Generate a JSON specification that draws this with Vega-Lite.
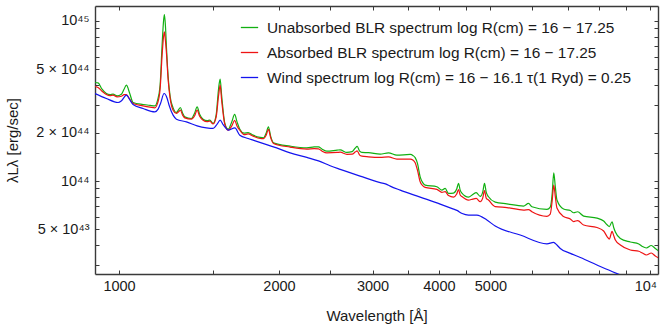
{
"$schema": "https://vega.github.io/schema/vega-lite/v6.json",
"width": 563, "height": 268,
"autosize": {"type": "none"},
"padding": {"left": 95, "top": 6, "right": 2, "bottom": 57},
"background": "white",
"config": {
  "view": {"stroke": null},
  "font": "Liberation Sans",
  "axis": {"grid": false, "domainColor": "#3a3a3a", "domainWidth": 1.4, "tickColor": "#3a3a3a", "tickWidth": 1, "tickSize": -4, "labelColor": "#1a1a1a", "labelFont": "Liberation Sans", "labelFontSize": 14.5, "titleFont": "Liberation Sans", "titleFontSize": 15, "titleFontWeight": "normal", "titleColor": "#1a1a1a"},
  "legend": {"labelFont": "Liberation Sans"}
},
"datasets": {
"blr": [
{"wl":901.2,"U":4.128e44,"A":3.897e44},
{"wl":913.0,"U":4.104e44,"A":3.842e44},
{"wl":928.9,"U":3.749e44,"A":3.643e44},
{"wl":946.4,"U":3.524e44,"A":3.474e44},
{"wl":961.7,"U":3.464e44,"A":3.415e44},
{"wl":974.3,"U":3.489e44,"A":3.439e44},
{"wl":991.4,"U":3.405e44,"A":3.357e44},
{"wl":1010.0,"U":3.489e44,"A":3.390e44},
{"wl":1021.9,"U":3.749e44,"A":3.464e44},
{"wl":1032.2,"U":3.971e44,"A":3.474e44},
{"wl":1047.5,"U":3.524e44,"A":3.247e44},
{"wl":1062.6,"U":3.097e44,"A":3.053e44},
{"wl":1109.7,"U":3.009e44,"A":2.949e44},
{"wl":1144.0,"U":2.971e44,"A":2.894e44},
{"wl":1167.6,"U":2.949e44,"A":2.866e44},
{"wl":1181.8,"U":3.201e44,"A":3.066e44},
{"wl":1194.7,"U":3.971e44,"A":3.749e44},
{"wl":1205.1,"U":7.053e44,"A":6.110e44},
{"wl":1213.0,"U":1.010e45,"A":8.027e44},
{"wl":1217.2,"U":1.096e45,"A":8.539e44},
{"wl":1222.5,"U":9.401e44,"A":7.579e44},
{"wl":1228.9,"U":6.566e44,"A":6.110e44},
{"wl":1236.9,"U":4.519e44,"A":4.328e44},
{"wl":1247.7,"U":3.390e44,"A":3.295e44},
{"wl":1264.0,"U":2.866e44,"A":2.772e44},
{"wl":1282.2,"U":2.683e44,"A":2.645e44},
{"wl":1294.5,"U":2.793e44,"A":2.713e44},
{"wl":1304.6,"U":2.882e44,"A":2.772e44},
{"wl":1317.2,"U":2.656e44,"A":2.581e44},
{"wl":1329.8,"U":2.518e44,"A":2.483e44},
{"wl":1368.4,"U":2.461e44,"A":2.437e44},
{"wl":1387.5,"U":2.656e44,"A":2.562e44},
{"wl":1402.7,"U":2.907e44,"A":2.772e44},
{"wl":1418.0,"U":2.618e44,"A":2.544e44},
{"wl":1439.6,"U":2.437e44,"A":2.402e44},
{"wl":1464.8,"U":2.385e44,"A":2.351e44},
{"wl":1482.1,"U":2.402e44,"A":2.368e44},
{"wl":1503.4,"U":2.291e44,"A":2.274e44},
{"wl":1523.1,"U":2.581e44,"A":2.508e44},
{"wl":1539.7,"U":3.803e44,"A":3.439e44},
{"wl":1549.8,"U":4.328e44,"A":3.971e44},
{"wl":1559.9,"U":3.439e44,"A":3.201e44},
{"wl":1581.7,"U":2.291e44,"A":2.258e44},
{"wl":1604.5,"U":2.110e44,"A":2.081e44},
{"wl":1629.1,"U":2.334e44,"A":2.203e44},
{"wl":1650.4,"U":2.607e44,"A":2.392e44},
{"wl":1668.1,"U":2.334e44,"A":2.203e44},
{"wl":1687.7,"U":2.110e44,"A":2.081e44},
{"wl":1719.5,"U":1.993e44,"A":1.950e44},
{"wl":1749.6,"U":2.007e44,"A":1.970e44},
{"wl":1787.9,"U":1.936e44,"A":1.909e44},
{"wl":1843.1,"U":1.873e44,"A":1.846e44},
{"wl":1871.3,"U":1.862e44,"A":1.841e44},
{"wl":1891.7,"U":1.993e44,"A":1.936e44},
{"wl":1910.7,"U":2.182e44,"A":2.101e44},
{"wl":1929.0,"U":1.909e44,"A":1.868e44},
{"wl":1952.6,"U":1.733e44,"A":1.718e44},
{"wl":2099.1,"U":1.653e44,"A":1.630e44},
{"wl":2256.7,"U":1.613e44,"A":1.583e44},
{"wl":2329.4,"U":1.634e44,"A":1.595e44},
{"wl":2373.3,"U":1.636e44,"A":1.590e44},
{"wl":2411.7,"U":1.583e44,"A":1.538e44},
{"wl":2461.3,"U":1.538e44,"A":1.501e44},
{"wl":2573.7,"U":1.561e44,"A":1.510e44},
{"wl":2607.4,"U":1.567e44,"A":1.517e44},
{"wl":2684.3,"U":1.510e44,"A":1.470e44},
{"wl":2746.7,"U":1.527e44,"A":1.473e44},
{"wl":2782.6,"U":1.606e44,"A":1.517e44},
{"wl":2806.8,"U":1.646e44,"A":1.545e44},
{"wl":2837.4,"U":1.538e44,"A":1.453e44},
{"wl":2864.6,"U":1.510e44,"A":1.432e44},
{"wl":2947.8,"U":1.506e44,"A":1.418e44},
{"wl":3101.1,"U":1.473e44,"A":1.406e44},
{"wl":3214.6,"U":1.501e44,"A":1.416e44},
{"wl":3333.9,"U":1.453e44,"A":1.372e44},
{"wl":3531.6,"U":1.467e44,"A":1.372e44},
{"wl":3577.9,"U":1.442e44,"A":1.352e44},
{"wl":3609.0,"U":1.401e44,"A":1.304e44},
{"wl":3645.2,"U":1.289e44,"A":1.171e44},
{"wl":3688.1,"U":1.064e44,"A":9.900e43},
{"wl":3728.3,"U":9.787e43,"A":9.374e43},
{"wl":3768.9,"U":9.442e43,"A":9.135e43},
{"wl":3965.1,"U":9.214e43,"A":8.876e43},
{"wl":4052.0,"U":8.787e43,"A":8.502e43},
{"wl":4110.4,"U":9.005e43,"A":8.600e43},
{"wl":4169.7,"U":8.380e43,"A":8.121e43},
{"wl":4261.1,"U":8.416e43,"A":7.947e43},
{"wl":4320.7,"U":8.916e43,"A":8.296e43},
{"wl":4354.5,"U":9.675e43,"A":8.850e43},
{"wl":4386.7,"U":8.787e43,"A":8.180e43},
{"wl":4419.1,"U":8.416e43,"A":8.004e43},
{"wl":4547.4,"U":7.947e43,"A":7.613e43},
{"wl":4631.1,"U":8.238e43,"A":7.722e43},
{"wl":4701.9,"U":8.477e43,"A":7.800e43},
{"wl":4784.2,"U":8.027e43,"A":7.431e43},
{"wl":4836.3,"U":8.538e43,"A":7.834e43},
{"wl":4874.2,"U":9.675e43,"A":8.725e43},
{"wl":4910.2,"U":8.538e43,"A":7.834e43},
{"wl":4959.4,"U":7.981e43,"A":7.613e43},
{"wl":5105.6,"U":7.396e43,"A":6.934e43},
{"wl":5371.4,"U":7.208e43,"A":6.835e43},
{"wl":5772.3,"U":6.984e43,"A":6.594e43},
{"wl":5898.9,"U":7.260e43,"A":6.641e43},
{"wl":5986.5,"U":6.914e43,"A":6.434e43},
{"wl":6388.9,"U":6.660e43,"A":6.030e43},
{"wl":6481.0,"U":6.884e43,"A":6.224e43},
{"wl":6537.5,"U":8.416e43,"A":7.613e43},
{"wl":6580.1,"U":1.127e44,"A":9.442e43},
{"wl":6623.1,"U":9.307e43,"A":8.062e43},
{"wl":6672.1,"U":7.613e43,"A":6.786e43},
{"wl":6865.8,"U":6.688e43,"A":6.004e43},
{"wl":7070.9,"U":6.546e43,"A":5.796e43},
{"wl":7172.8,"U":6.342e43,"A":5.590e43},
{"wl":7298.3,"U":6.434e43,"A":5.671e43},
{"wl":7490.6,"U":6.047e43,"A":5.316e43},
{"wl":7938.8,"U":5.876e43,"A":5.128e43},
{"wl":8169.2,"U":5.630e43,"A":4.877e43},
{"wl":8301.4,"U":5.316e43,"A":4.474e43},
{"wl":8373.7,"U":5.203e43,"A":4.347e43},
{"wl":8472.3,"U":5.574e43,"A":4.856e43},
{"wl":8538.6,"U":5.092e43,"A":4.538e43},
{"wl":8594.4,"U":4.808e43,"A":4.285e43},
{"wl":8782.7,"U":4.380e43,"A":3.989e43},
{"wl":9170.0,"U":4.164e43,"A":3.712e43},
{"wl":9514.2,"U":4.045e43,"A":3.644e43},
{"wl":9659.7,"U":3.905e43,"A":3.555e43},
{"wl":9828.7,"U":3.822e43,"A":3.454e43},
{"wl":10043,"U":3.961e43,"A":3.555e43},
{"wl":10219,"U":3.794e43,"A":3.405e43},
{"wl":10367,"U":3.660e43,"A":3.309e43}
],
"wind": [
{"wl":901.2,"W":3.524e44},{"wl":946.4,"W":3.280e44},{"wl":995.7,"W":3.097e44},{"wl":1010.9,"W":3.178e44},
{"wl":1032.2,"W":3.439e44},{"wl":1048.9,"W":3.201e44},{"wl":1062.6,"W":3.009e44},{"wl":1109.7,"W":2.841e44},
{"wl":1167.6,"W":2.706e44},{"wl":1184.4,"W":2.813e44},{"wl":1197.3,"W":3.066e44},{"wl":1215.6,"W":3.524e44},
{"wl":1231.5,"W":3.295e44},{"wl":1242.2,"W":2.979e44},{"wl":1264.0,"W":2.581e44},{"wl":1282.2,"W":2.437e44},
{"wl":1339.1,"W":2.344e44},{"wl":1402.7,"W":2.213e44},{"wl":1460.4,"W":2.150e44},{"wl":1503.4,"W":2.132e44},
{"wl":1529.8,"W":2.268e44},{"wl":1549.8,"W":2.402e44},{"wl":1570.1,"W":2.252e44},{"wl":1581.7,"W":2.182e44},
{"wl":1604.5,"W":2.081e44},{"wl":1651.8,"W":2.150e44},{"wl":1687.7,"W":1.936e44},{"wl":1749.6,"W":1.846e44},
{"wl":1787.9,"W":1.802e44},{"wl":1908.2,"W":1.677e44},{"wl":1952.6,"W":1.636e44},{"wl":2099.1,"W":1.501e44},
{"wl":2256.7,"W":1.406e44},{"wl":2373.3,"W":1.3385e44},{"wl":2496.9,"W":1.2459e44},{"wl":2607.4,"W":1.1831e44},
{"wl":2843.5,"W":1.0745e44},{"wl":3101.1,"W":9.787e43},{"wl":3182.7,"W":9.578e43},{"wl":3238.4,"W":9.307e43},
{"wl":3382.0,"W":8.787e43},{"wl":3688.1,"W":7.947e43},{"wl":4022.2,"W":7.187e43},{"wl":4237.1,"W":6.737e43},
{"wl":4324.4,"W":6.565e43},{"wl":4424.9,"W":6.269e43},{"wl":4547.4,"W":6.135e43},{"wl":4716.2,"W":6.135e43},
{"wl":4925.1,"W":5.712e43},{"wl":5105.6,"W":5.239e43},{"wl":5690.3,"W":4.604e43},{"wl":6388.9,"W":4.057e43},
{"wl":6574.4,"W":4.145e43},{"wl":6672.1,"W":3.989e43},{"wl":6768.3,"W":3.794e43},{"wl":7070.9,"W":3.539e43},
{"wl":7384.1,"W":3.332e43},{"wl":8051.5,"W":2.928e43},{"wl":8782.7,"W":2.593e43},{"wl":9575.8,"W":2.294e43},
{"wl":10353,"W":2.045e43}
]
},
"layer": [
{
  "data": {"name": "blr"},
  "transform": [{"fold": ["U", "A"], "as": ["s", "L"]}],
  "mark": {"type": "line", "clip": true, "strokeWidth": 1.2, "interpolate": "monotone"},
  "encoding": {
    "x": {"field": "wl", "type": "quantitative", "scale": {"type": "log", "domain": [901, 10339], "nice": false},
      "axis": {"orient": "bottom", "values": [1000,1500,2000,2500,3000,3500,4000,4500,5000,6000,7000,8000,9000,10000],
        "labelExpr": "round(datum.value) == 10000 ? '10⁴' : (indexof([1000,2000,3000,4000,5000], round(datum.value)) >= 0 ? format(datum.value, 'd') : '')",
        "labelOffset": {"condition": {"test": "datum.value > 9500", "value": -5}, "value": 0},
        "labelPadding": 9, "labelBaseline": "top", "labelFlush": false, "title": "Wavelength [Å]", "titleY": 41, "titleBaseline": "middle"}},
    "y": {"field": "L", "type": "quantitative", "scale": {"type": "log", "domain": [2.629e43, 1.2405e45], "nice": false},
      "axis": {"orient": "left", "values": [3e43,4e43,5e43,6e43,7e43,8e43,9e43,1e44,1.5e44,2e44,3e44,4e44,5e44,6e44,7e44,8e44,9e44,1e45],
        "labelExpr": "datum.value > 9.9e44 ? '10⁴⁵' : abs(datum.value - 5e44) < 1e42 ? '5 × 10⁴⁴' : abs(datum.value - 2e44) < 1e42 ? '2 × 10⁴⁴' : abs(datum.value - 1e44) < 1e42 ? '10⁴⁴' : abs(datum.value - 5e43) < 1e41 ? '5 × 10⁴³' : ''",
        "labelPadding": 10, "labelFlush": false, "title": "λLλ [erg/sec]", "titleX": -83, "titleY": 134, "titleAngle": -90, "titleAlign": "center", "titleBaseline": "middle"}},
    "color": {"field": "s", "type": "nominal",
      "scale": {"domain": ["U", "A", "W"], "range": ["#12b012", "#ee1414", "#1414ee"]},
      "legend": {"orient": "none", "legendX": 145, "legendY": 12, "title": null, "symbolType": "stroke", "symbolSize": 300, "symbolStrokeWidth": 1.3, "labelFontSize": 15.4, "labelColor": "#1a1a1a", "labelOffset": 8, "rowPadding": 7, "labelLimit": 0, "padding": 0,
        "labelExpr": "datum.label == 'U' ? 'Unabsorbed BLR spectrum  log R(cm) = 16 − 17.25' : datum.label == 'A' ? 'Absorbed BLR spectrum  log R(cm) = 16 − 17.25' : 'Wind spectrum  log R(cm) = 16 − 16.1  τ(1 Ryd) = 0.25'"}}
  }
},
{
  "data": {"name": "wind"},
  "transform": [{"fold": ["W"], "as": ["s", "L"]}],
  "mark": {"type": "line", "clip": true, "strokeWidth": 1.2, "interpolate": "monotone"},
  "encoding": {
    "x": {"field": "wl", "type": "quantitative", "scale": {"type": "log", "domain": [901, 10339], "nice": false},
      "axis": {"orient": "top", "values": [1000,1500,2000,2500,3000,3500,4000,4500,5000,6000,7000,8000,9000,10000], "labels": false, "title": null}},
    "y": {"field": "L", "type": "quantitative", "scale": {"type": "log", "domain": [2.629e43, 1.2405e45], "nice": false},
      "axis": {"orient": "right", "values": [3e43,4e43,5e43,6e43,7e43,8e43,9e43,1e44,1.5e44,2e44,3e44,4e44,5e44,6e44,7e44,8e44,9e44,1e45], "labels": false, "title": null}},
    "color": {"field": "s", "type": "nominal", "scale": {"domain": ["U", "A", "W"], "range": ["#12b012", "#ee1414", "#1414ee"]}}
  }
}
],
"resolve": {"axis": {"x": "independent", "y": "independent"}}
}
